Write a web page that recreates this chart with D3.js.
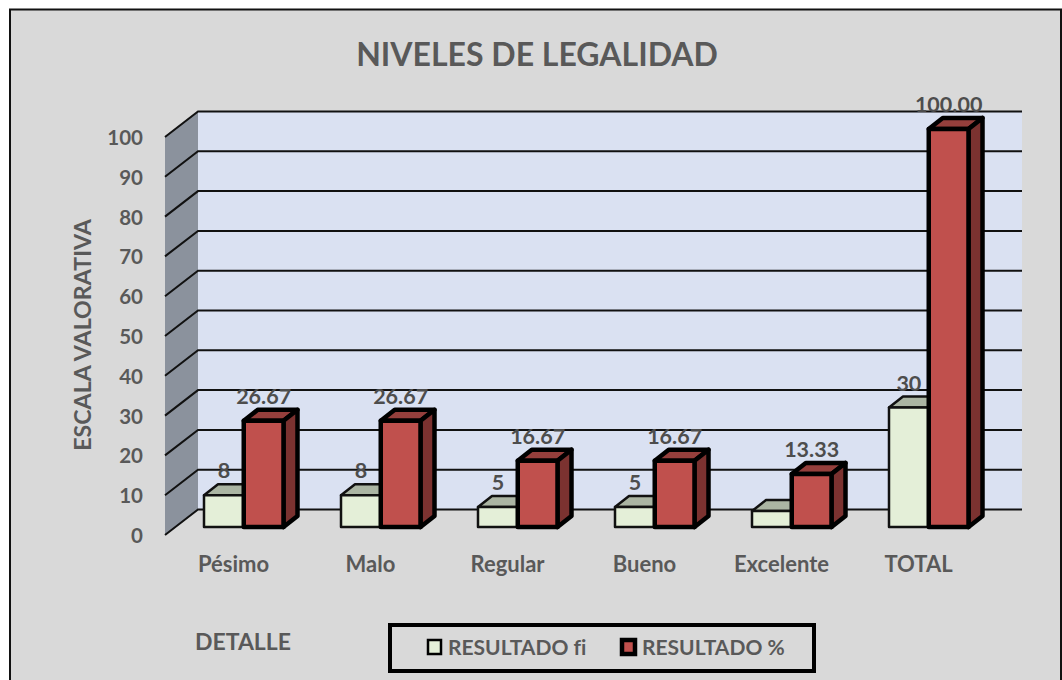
<!DOCTYPE html>
<html>
<head>
<meta charset="utf-8">
<script src="https://cdn.jsdelivr.net/npm/d3@7"></script>
<style>
  html, body { margin: 0; padding: 0; background: #fff; }
  svg { display: block; }
  text { font-family: Lato, "Open Sans", sans-serif; font-weight: 700; fill: #595959; font-variant-ligatures: none; }
</style>
</head>
<body>
<div id="box"></div>
<script>
var categories = ["Pésimo", "Malo", "Regular", "Bueno", "Excelente", "TOTAL"];
var seriesNames = ["RESULTADO fi", "RESULTADO %"];
var fi = [8, 8, 5, 5, 4, 30];
var pct = [26.67, 26.67, 16.67, 16.67, 13.33, 100];
var fiLabels = ["8", "8", "5", "5", "", "30"];
var pctLabels = ["26.67", "26.67", "16.67", "16.67", "13.33", "100.00"];
var yTicks = [0, 10, 20, 30, 40, 50, 60, 70, 80, 90, 100];

var width = 1062;
var height = 680;

var svg = d3.select("#box").append("svg")
    .attr("width", width)
    .attr("height", height);

// chart area, bottom edge runs off the picture
svg.append("rect")
    .attr("x", 10).attr("y", 9.5)
    .attr("width", 1051).attr("height", 680)
    .attr("fill", "#d9d9d9")
    .attr("stroke", "#111")
    .attr("stroke-width", 2);

svg.append("text")
    .attr("x", 537).attr("y", 66)
    .attr("text-anchor", "middle")
    .attr("font-size", 32)
    .text("NIVELES DE LEGALIDAD");

var y = d3.scaleLinear().domain([0, 100]).range([535, 137]);
var x = d3.scaleBand().domain(categories).range([165, 987]);
var inner = d3.scaleBand().domain(seriesNames).range([29, 108.5]);

// depth of the 3d box and of the bars
var wallDx = 33, wallDy = -25.5, wallRight = 1022;
var barShiftX = 10, barShiftY = -8;
var barDx = 14, barDy = -11;

// back wall + side wall
svg.append("path")
    .attr("d", d3.line()([[165 + wallDx, y(100) + wallDy], [wallRight, y(100) + wallDy], [wallRight, y(0) + wallDy], [165 + wallDx, y(0) + wallDy]]))
    .attr("fill", "#dae1f2");
svg.append("path")
    .attr("d", d3.line()([[165, y(100)], [165 + wallDx, y(100) + wallDy], [165 + wallDx, y(0) + wallDy], [165, y(0)]]))
    .attr("fill", "#8b929d");

// grid
svg.selectAll("path.grid")
    .data(yTicks)
    .enter().append("path")
    .attr("class", "grid")
    .attr("d", function(d) {
        return d3.line()([[165, y(d)], [165 + wallDx, y(d) + wallDy], [wallRight, y(d) + wallDy]]);
    })
    .attr("fill", "none")
    .attr("stroke", "#111")
    .attr("stroke-width", 2);

// axes
var yAxis = svg.append("g")
    .attr("transform", "translate(151,1)")
    .call(d3.axisLeft(y).tickValues(yTicks).tickSize(0).tickPadding(8));
yAxis.select(".domain").remove();
yAxis.selectAll("text").attr("font-size", 20.5);

var xAxis = svg.append("g")
    .attr("transform", "translate(0,553)")
    .call(d3.axisBottom(x).tickSize(0).tickPadding(3));
xAxis.select(".domain").remove();
xAxis.selectAll("text").attr("font-size", 22);
yAxis.attr("font-family", null);
xAxis.attr("font-family", null);

function drawBar(g, px, py, w, h, front, top, side, stroke, sw) {
    var p0 = [px, py], p1 = [px + w, py], p2 = [px + w, py + h], p3 = [px, py + h];
    var t0 = [px + barDx, py + barDy], t1 = [px + w + barDx, py + barDy], s2 = [px + w + barDx, py + h + barDy];
    var line = d3.line();
    [[[p0, t0, t1, p1], top], [[p1, t1, s2, p2], side], [[p0, p1, p2, p3], front]].forEach(function(f) {
        g.append("path")
            .attr("d", line(f[0]) + "Z")
            .attr("fill", f[1])
            .attr("stroke", stroke)
            .attr("stroke-width", sw)
            .attr("stroke-linejoin", "round");
    });
}

var bars = svg.append("g");
categories.forEach(function(c, i) {
    var fx = x(c) + inner(seriesNames[0]) + barShiftX;
    var py = y(fi[i]) + barShiftY;
    drawBar(bars, fx, py, inner.bandwidth(), y(0) - y(fi[i]), "#e4efd8", "#abb5a3", "#abb5a3", "#111", 2.5);
    var rx = x(c) + inner(seriesNames[1]) + barShiftX;
    var ry = y(pct[i]) + barShiftY;
    drawBar(bars, rx, ry, inner.bandwidth(), y(0) - y(pct[i]), "#c0504d", "#953f3c", "#7b3230", "#000", 4.5);

    if (fiLabels[i]) {
        svg.append("text")
            .attr("x", fx + inner.bandwidth() / 2).attr("y", py - 17)
            .attr("text-anchor", "middle")
            .attr("font-size", 21.5)
            .style("fill", "#4d4d4d")
            .text(fiLabels[i]);
    }
    svg.append("text")
        .attr("x", rx + inner.bandwidth() / 2).attr("y", ry - 17)
        .attr("text-anchor", "middle")
        .attr("font-size", 21.5)
        .style("fill", "#4d4d4d")
        .text(pctLabels[i]);
});

svg.append("text")
    .attr("transform", "translate(91,335) rotate(-90)")
    .attr("text-anchor", "middle")
    .attr("font-size", 23.2)
    .text("ESCALA VALORATIVA");

svg.append("text")
    .attr("x", 243).attr("y", 650)
    .attr("text-anchor", "middle")
    .attr("font-size", 23)
    .text("DETALLE");

// legend
svg.append("rect")
    .attr("x", 390).attr("y", 625)
    .attr("width", 424).attr("height", 46)
    .attr("fill", "#d9d9d9")
    .attr("stroke", "#000")
    .attr("stroke-width", 4);

var legendX = [428, 622];
var legendFill = ["#e4efd8", "#c0504d"];
var legendSw = [2.5, 4.5];
seriesNames.forEach(function(name, i) {
    svg.append("rect")
        .attr("x", legendX[i]).attr("y", 640)
        .attr("width", 13).attr("height", 14)
        .attr("fill", legendFill[i])
        .attr("stroke", "#000")
        .attr("stroke-width", legendSw[i]);
    svg.append("text")
        .attr("x", legendX[i] + 20).attr("y", 655)
        .attr("font-size", 21)
        .text(name);
});
</script>
</body>
</html>
